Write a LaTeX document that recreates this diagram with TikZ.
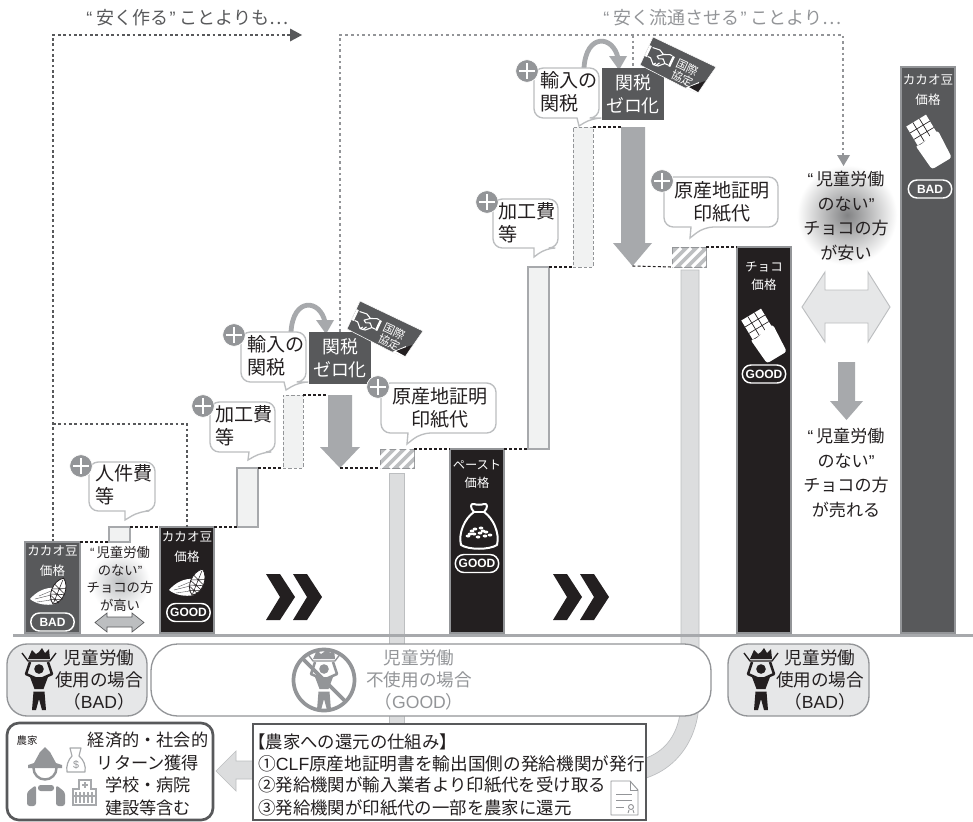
\documentclass[tikz,border=0pt]{standalone}
\usepackage{fontspec}
\setmainfont{Noto Sans CJK JP}
\newfontfamily\lat{Liberation Sans}
\usetikzlibrary{arrows.meta}
\definecolor{dk}{HTML}{58595B}
\definecolor{blk}{HTML}{231F20}
\definecolor{brd}{HTML}{939598}
\definecolor{inc}{HTML}{F1F2F2}
\definecolor{lg}{HTML}{BCBEC0}
\definecolor{mid}{HTML}{A7A9AC}
\definecolor{pale}{HTML}{DCDDDE}
\definecolor{pillg}{HTML}{E6E7E8}
\newcommand\fs[2]{\fontsize{#1pt}{#2pt}\selectfont}
\newcommand\rectnode[6]{\pgfmathsetlengthmacro\myw{(#4-#2)*0.75}\pgfmathsetlengthmacro\myh{(#5-#3)*0.75}%
 \node[#6,anchor=north west,inner sep=0pt,outer sep=0pt,minimum width=\myw,minimum height=\myh] (#1) at (#2,#3) {};}
\tikzset{
 darkbar/.style={fill=dk,draw=brd,line width=1pt},
 blackbar/.style={fill=blk,draw=brd,line width=1pt},
 incbox/.style={fill=inc,draw=mid,line width=.8pt},
 incdash/.style={fill=inc,draw=brd,line width=.6pt,dash pattern=on 2.5pt off 1.5pt},
 hatchbox/.style={fill=lg,draw=brd,line width=.5pt},
 stepline/.style={line width=.8pt,blk,dash pattern=on 2.2pt off 1.6pt},
 dotline/.style={line width=1.4pt,dk,dash pattern=on 2pt off 2pt},
 grayline/.style={line width=1.4pt,brd,dash pattern=on 2pt off 2.2pt},
 bartext/.style={text=white,align=center,inner sep=0pt,font=\fs{9.4}{15}},
 smallpill/.style={draw=white,line width=1.1pt,rounded corners=6.5pt,inner sep=0pt,minimum width=32.5pt,minimum height=13.5pt,text=white,font=\lat\bfseries\fs{9}{10}},
 calloutline/.style={draw=lg,fill=white,line width=1pt},
 callouttext/.style={align=left,inner sep=0pt,text=blk,font=\fs{14.3}{17.6}},
 plusdisc/.style={circle,fill=brd,draw=white,line width=.5pt,minimum size=17pt,inner sep=0pt},
 statuspill/.style={draw=brd,line width=1pt,rounded corners=15pt,anchor=north west,inner sep=0pt,outer sep=0pt},
 bigtext/.style={align=center,inner sep=0pt,text=blk,font=\fs{12.8}{18.4}},
 labeltext/.style={align=center,inner sep=0pt,text=blk,font=\fs{13.2}{16.8}},
 linetext/.style={anchor=west,inner sep=0pt,text=blk,font=\fs{13.05}{15}},
 pics/cacao/.style={code={
   \fill[white] (-19,3) .. controls (-12,-5) and (-3,-9) .. (6,-8) -- (6,8) .. controls (-3,10) and (-13,8) .. (-19,3) -- cycle;
   \draw[dk,line width=.3pt] (-14,3) -- (2,-1) (-12,6) -- (2,4) (-10,0) -- (2,-5);
   \begin{scope}[shift={(9,-4)},rotate=-22]
    \draw[fill=white,draw=blk,line width=.6pt] (0,-15) .. controls (9,-9) and (9,8) .. (0,13) .. controls (-9,8) and (-9,-9) .. (0,-15) -- cycle;
    \draw[blk,line width=.4pt] (0,-13) -- (0,12) (-6,-6) -- (6,-1) (-7,0) -- (7,5) (-5,6) -- (5,10) (6,-6) -- (-6,-1) (7,0) -- (-7,5) (5,6) -- (-5,10);
   \end{scope}}},
 pics/chocobar/.style={code={
   \begin{scope}[rotate=31]
    \fill[white] (-11.5,-25) rectangle (11.5,-3);
    \draw[blk,line width=.5pt] (-3.8,-25) -- (-3.8,-3) (3.8,-25) -- (3.8,-3) (-11.5,-17.5) -- (11.5,-17.5) (-11.5,-10) -- (11.5,-10);
    \fill[white,rounded corners=2pt] (-13.5,-4) .. controls (-6,0) and (6,-7) .. (13.5,-5) -- (11.5,25) -- (-11.5,25) -- cycle;
   \end{scope}}},
 pics/worker/.style={code={
   \fill[#1] (-11,-21) -- (-7,-30) -- (-3,-26) -- (0,-28) -- (3,-32) -- (6,-27) -- (10,-31) -- (11,-21) -- cycle;
   \draw[#1,line width=1pt] (-17,-27) -- (-11,-19) -- (11,-19) -- (17,-27);
   \fill[#1] (0,-11) circle[radius=4.8];
   \draw[#1,line width=1.9pt,line join=round] (-4,-2) -- (-13,-6) -- (-9,-18) (4,-2) -- (13,-6) -- (9,-18);
   \fill[#1] (-9,-3) -- (9,-3) -- (4.5,9) -- (-4.5,9) -- cycle;
   \fill[#1] (-5.5,11.5) -- (5.5,11.5) -- (7,30) -- (3,30) -- (0,19) -- (-3,30) -- (-7,30) -- cycle;}},
}
\newcommand\taxzero[4]{%
 \begin{scope}[shift={(#1,#2)}]
  \draw[line width=3.6pt,mid] (291,332) .. controls (293,297) and (320,299) .. (325,322);
  \fill[mid] (316,320) -- (334,320) -- (326,334) -- cycle;
  \draw[calloutline,rounded corners=7pt] (241,332) -- (306,332) -- (306,382) -- (299,382) [sharp corners] -- (286,390) -- (284,382) [rounded corners=7pt] -- (241,382) -- cycle;
  \node[callouttext,anchor=north west] (#3t) at (247,335) {輸入の\\関税};
  \node[plusdisc] (#3p) at (234,335) {};
  \draw[white,line width=2.2pt] (#3p.center) ++(-8,0) -- ++(16,0) (#3p.center) ++(0,-8) -- ++(0,16);
  \rectnode{#4}{309}{332}{371}{384}{fill=dk}
  \node[align=center,inner sep=0pt,text=white,font=\fs{13.4}{17.6}] at (#4.center) {関税\\ゼロ化};
  \fill[dk,draw=white,line width=.4pt] (360,301) -- (423,331) -- (405,357) -- (392,352) -- (347,329) -- cycle;
  \fill[white] (392,352) -- (405,357) -- (406,346) -- cycle;
  \fill[blk] (396,351) -- (405,356) -- (412,345) -- cycle;
  \node[align=center,inner sep=0pt,text=white,rotate=-25,font=\fs{8.6}{9.6}] (#3s) at (392,337) {国際\\協定};
  \begin{scope}[shift={(366,322)},rotate=-25,scale=.85]
   \draw[white,line width=1.8pt] (-15,-9) -- (-15,5) (15,-9) -- (15,4);
   \draw[white,line width=.8pt,line join=round] (-12,-8) -- (-3,-9) -- (3,-6) -- (10,-9) -- (13,-9) (13,3) -- (9,3) -- (3,9) -- (-3,10) -- (-9,4) -- (-13,4) (3,-6) -- (-3,-1) -- (0,1) -- (5,-1) -- (9,3) (-3,10) -- (-1,7) (0,10) -- (3,5);
  \end{scope}
 \end{scope}}
\begin{document}
\begin{tikzpicture}[x=0.75pt,y=-0.75pt]
\useasboundingbox (0,0) rectangle (973,821);
\fill[white] (0,0) rectangle (973,821);

% glows
\shade[inner color=dk!75,outer color=white] (847,215) circle[radius=50];
\shade[inner color=lg,outer color=white] (120,582) circle[radius=30];

% return flow bars
\rectnode{flowA}{389}{473}{404}{724}{fill=pale,draw=lg,line width=.5pt}
\fill[pale,draw=lg,line width=.5pt] (681,270) -- (699,270) -- (699,700) .. controls (699,735) and (680,767) .. (646,778) -- (646,758) .. controls (668,750) and (681,730) .. (681,700) -- cycle;

% top dotted routes
\coordinate (routeA) at (53,35);
\coordinate (routeAend) at (291,35);
\coordinate (routeB) at (340,35);
\coordinate (routeC) at (843,35);
\coordinate (routeCend) at (843,155);
\coordinate (routeD) at (633,35);
\coordinate (routeDend) at (633,68);
\coordinate (routeBend) at (340,332);
\draw[grayline] (routeBend) -- (routeB) -- (routeC) -- (routeCend);
\draw[grayline] (routeD) -- (routeDend);
\fill[brd] (837,155) -- (850,155) -- (843.5,166) -- cycle;
\draw[dotline] (53,542) -- (routeA) -- (routeAend);
\fill[dk] (290,28.5) -- (302,35) -- (290,41.5) -- cycle;
\node[inner sep=0pt,anchor=west,text=dk,font=\fs{13.5}{14}] (headA) at (86,18) {{\lat“}\hspace{3pt}安く作る\hspace{1pt}{\lat”}\hspace{3pt}ことよりも…};
\node[inner sep=0pt,anchor=west,text=brd,font=\fs{13.5}{14}] (headB) at (603,18) {{\lat“}\hspace{3pt}安く流通させる\hspace{1pt}{\lat”}\hspace{3pt}ことより…};

% bars
\rectnode{barA}{25}{542}{80}{633}{darkbar}
\rectnode{barB}{160}{527}{214}{633}{blackbar}
\rectnode{barC}{450}{449}{504}{633}{blackbar}
\rectnode{barD}{737}{247}{791}{633}{blackbar}
\rectnode{barE}{901}{67}{955}{633}{darkbar}

% increments
\rectnode{incA}{109}{527}{130}{542}{incbox}
\rectnode{incB}{237}{468}{258}{527}{incbox}
\rectnode{incC}{283}{395}{303}{468}{incdash}
\rectnode{stampA}{380}{449}{414}{468}{hatchbox}
\rectnode{incD}{528}{267}{549}{449}{incbox}
\rectnode{incE}{573}{127}{593}{267}{incdash}
\rectnode{stampB}{672}{247}{706}{267}{hatchbox}
\foreach \s in {stampA,stampB}{
 \begin{scope}
  \clip (\s.north west) rectangle (\s.south east);
  \foreach \k in {-2,...,4}{
   \draw[white,line width=2.4pt] ([xshift=\k*7.5pt]\s.south west) -- ++(19,-19);
  }
 \end{scope}
}

% down arrows
\fill[mid] (328,395) -- (352,395) -- (352,447) -- (360,447) -- (340,468) -- (320,447) -- (328,447) -- cycle;
\fill[mid] (621,127) -- (645,127) -- (645,243) -- (652,243) -- (632.5,266) -- (613,243) -- (621,243) -- cycle;
\coordinate (arrowAtop) at (328,395);
\coordinate (arrowAtip) at (340,468);
\coordinate (arrowBtop) at (621,127);
\coordinate (arrowBtip) at (632.5,266);

% step lines
\draw[dotline,line width=1.2pt] (53,424) -- (187,424) -- (187,527);
\draw[stepline] (80,542) -- (incA.south west);
\draw[stepline] (incA.north east) -- (barB.north west);
\draw[stepline] (barB.north east) -- (incB.south west);
\draw[stepline] (incB.north east) -- (incC.south west);
\draw[stepline] (incC.north east) -- (arrowAtop);
\draw[stepline] (arrowAtip) -- (stampA.south west);
\draw[stepline] (stampA.north east) -- (barC.north west);
\draw[stepline] (barC.north east) -- (incD.south west);
\draw[stepline] (incD.north east) -- (incE.south west);
\draw[stepline] (incE.north east) -- (arrowBtop);
\draw[stepline] (arrowBtip) -- (stampB.south west);
\draw[stepline] (stampB.north east) -- (barD.north west);

% callouts
\draw[calloutline,rounded corners=7pt] (89,462) -- (155,462) -- (155,511) -- (140,511) [sharp corners] -- (125,520) -- (125,511) [rounded corners=7pt] -- (89,511) -- cycle;
\node[callouttext,anchor=north west] (costA) at (95,464) {人件費\\等};
\node[plusdisc] (plusA) at (81,466) {};
\draw[calloutline,rounded corners=7pt] (210,402) -- (275,402) -- (275,452) -- (262,452) [sharp corners] -- (248,460) -- (249,452) [rounded corners=7pt] -- (210,452) -- cycle;
\node[callouttext,anchor=north west] (costB) at (215,405) {加工費\\等};
\node[plusdisc] (plusB) at (203,406) {};
\draw[calloutline,rounded corners=7pt] (493,199) -- (558,199) -- (558,248) -- (546,248) [sharp corners] -- (534,257) -- (534,248) [rounded corners=7pt] -- (493,248) -- cycle;
\node[callouttext,anchor=north west] (costC) at (498,202) {加工費\\等};
\node[plusdisc] (plusC) at (487,202) {};
\foreach \p in {plusA,plusB,plusC}{
 \draw[white,line width=2.2pt] (\p.center) ++(-8,0) -- ++(16,0) (\p.center) ++(0,-8) -- ++(0,16);
}
\taxzero{0}{0}{dutyA}{zeroA}
\taxzero{293}{-264}{dutyB}{zeroB}

\draw[calloutline,rounded corners=7pt] (381,383) -- (496,383) -- (496,433) -- (421,433) [sharp corners] -- (407,444) -- (408,433) [rounded corners=7pt] -- (381,433) -- cycle;
\node[callouttext,align=center] (stampTextA) at (440,408) {原産地証明\\印紙代};
\node[plusdisc] (plusD) at (378,387) {};
\draw[calloutline,rounded corners=7pt] (664,177) -- (778,177) -- (778,227) -- (704,227) [sharp corners] -- (690,238) -- (691,227) [rounded corners=7pt] -- (664,227) -- cycle;
\node[callouttext,align=center] (stampTextB) at (722,202) {原産地証明\\印紙代};
\node[plusdisc] (plusE) at (662,181) {};
\foreach \p in {plusD,plusE}{
 \draw[white,line width=2.2pt] (\p.center) ++(-8,0) -- ++(16,0) (\p.center) ++(0,-8) -- ++(0,16);
}

% bar labels
\node[bartext] (tA) at (52.5,561) {カカオ豆\\価格};
\node[bartext] (tB) at (187,547) {カカオ豆\\価格};
\node[bartext,font=\fs{9.2}{13.5}] (tC) at (477,474) {ペースト\\価格};
\node[bartext,font=\fs{9.4}{13.5}] (tD) at (764,276) {チョコ\\価格};
\node[bartext] (tE) at (928,90) {カカオ豆\\価格};
\pic at (49,596) {cacao};
\pic at (188,587) {cacao};
\pic at (764,336) {chocobar};
\pic at (929,142) {chocobar};
\node[smallpill] (pA) at (52.5,622) {BAD};
\node[smallpill] (pB) at (188.5,612.5) {GOOD};
\node[smallpill] (pC) at (477,563.5) {GOOD};
\node[smallpill] (pD) at (764,374) {GOOD};
\node[smallpill] (pE) at (930,189) {BAD};
% paste bag
\begin{scope}[shift={(479,525)}]
 \draw[white,line width=1.5pt,fill=blk,line join=round] (-5,-13) .. controls (-9,-17) and (-9,-22) .. (-5,-21) .. controls (-2,-20) and (2,-20) .. (5,-21) .. controls (9,-22) and (9,-17) .. (5,-13) .. controls (14,-7) and (21,8) .. (18,20) .. controls (10,25) and (-10,25) .. (-18,20) .. controls (-21,8) and (-14,-7) .. (-5,-13) -- cycle;
 \draw[white,line width=1.5pt] (-6,-13) -- (6,-13);
 \foreach \a/\b in {-9/9,-4/4,2/3,7/7,-11/11,-5/9,1/8,6/11,11/10,-1/12,-7/6,4/6}{\fill[white] (\a,\b) ellipse[x radius=2.4,y radius=1.5];}
\end{scope}

% chevrons
\foreach \c/\d in {266/ch1,293/ch2,553/ch3,580/ch4}{
 \fill[blk] (\c,574) -- (\c+14,574) -- (\c+29,597) -- (\c+14,620) -- (\c,620) -- (\c+14,597) -- cycle;
}

% middle comparison texts
\node[align=center,inner sep=0pt,text=blk,font=\fs{10}{13.3}] (txtHigh) at (120,579) {{\lat“}\,児童労働\\のない{\lat”}\\チョコの方\\が高い};
\draw[fill=lg,draw=dk,line width=.5pt] (95,622.5) -- (107,613) -- (107,617) -- (132,617) -- (132,613) -- (144,622.5) -- (132,632) -- (132,627) -- (107,627) -- (107,632) -- cycle;
\node[bigtext] (txtCheap) at (846,216) {{\lat“}\,児童労働\\のない{\lat”}\\チョコの方\\が安い};
\draw[fill=pillg,draw=lg,line width=.7pt] (802,307) -- (825,272) -- (825,290) -- (868,290) -- (868,272) -- (890,307) -- (868,342) -- (868,323) -- (825,323) -- (825,342) -- cycle;
\fill[mid] (838,362) -- (855,362) -- (855,401) -- (863,401) -- (846.5,420) -- (830,401) -- (838,401) -- cycle;
\node[bigtext] (txtSell) at (846,473) {{\lat“}\,児童労働\\のない{\lat”}\\チョコの方\\が売れる};

% baseline
\draw[line width=2.2pt,mid] (13,635.5) -- (973,635.5);

% status pills
\rectnode{stBadA}{7}{644}{147}{716}{statuspill,fill=pillg}
\rectnode{stGood}{151}{644}{711}{716}{statuspill,fill=white,rounded corners=20pt}
\rectnode{stBadB}{728}{644}{869}{716}{statuspill,fill=pillg}
\pic at (39,680) {worker=blk};
\pic at (761,680) {worker=blk};
\pic at (324,680) {worker=brd};
\draw[brd,line width=2.8pt] (324,680) circle[radius=30.5];
\draw[brd,line width=2.8pt] (302.5,658.5) -- (345.5,701.5);
\node[labeltext] (lBadA) at (99,680) {児童労働\\使用の場合\\（{\lat BAD}）};
\node[labeltext,text=brd] (lGood) at (419,680) {児童労働\\不使用の場合\\（{\lat GOOD}）};
\node[labeltext] (lBadB) at (820,680) {児童労働\\使用の場合\\（{\lat BAD}）};

% farmer panel
\rectnode{farmBox}{7}{723}{213}{820}{draw=dk,fill=white,line width=2pt,rounded corners=9pt}
\node[inner sep=0pt,text=blk,font=\fs{7.8}{9}] (farmLbl) at (27,741) {農家};
\node[align=center,inner sep=0pt,text=blk,font=\fs{12.9}{17}] (farmTxt) at (148,774) {経済的・社会的\\リターン獲得\\学校・病院\\建設等含む};
% farmer figure
\fill[brd] (28,765) -- (34,763) -- (40,752) -- (45,747) -- (50,752) -- (56,763) -- (62,765) -- (62,768) -- (28,768) -- cycle;
\draw[brd,line width=1.8pt] (33.5,768) arc[start angle=180,end angle=0,radius=11.5];
\fill[brd,rounded corners=2pt] (27,806) -- (27,792) -- (36,785) -- (36,806) -- cycle;
\fill[brd,rounded corners=2pt] (38,785) rectangle (54,791);
\fill[brd,rounded corners=2pt] (56,785) -- (65,792) -- (65,806) -- (56,806) -- cycle;
% money bag
\draw[mid,line width=.9pt,line join=round] (72,756) -- (70,748) -- (81,748) -- (79,756) .. controls (84,760) and (86,766) .. (85,772) -- (67,772) .. controls (66,766) and (68,760) .. (72,756) -- cycle;
\node[inner sep=0pt,text=brd,font=\lat\fs{8}{9}] (moneyS) at (76,765) {\$};
% hospital
\draw[mid,line width=.9pt] (73,805) -- (73,789) -- (79,789) -- (79,780) -- (91,780) -- (91,789) -- (96,789) -- (96,805) -- cycle;
\foreach \i in {76,80,84,88,92}{\draw[mid,line width=.9pt] (\i,792) -- (\i,803);}
\draw[mid,line width=.8pt] (73,796) -- (96,796) (85,782) -- (85,788) (82,785) -- (88,785);

% mechanism box
\fill[pale,draw=lg,line width=.5pt] (253,761) -- (236,761) -- (236,751) -- (216,771) -- (236,791) -- (236,779) -- (253,779);
\rectnode{mechBox}{253}{724}{646}{820}{draw=dk,fill=white,line width=2pt}
\node[linetext] (m0) at (248,742) {【農家への還元の仕組み】};
\node[linetext,font=\fs{13.25}{15}] (m1) at (258,763.5) {①{\lat CLF}原産地証明書を輸出国側の発給機関が発行};
\node[linetext] (m2) at (258,785.5) {②発給機関が輸入業者より印紙代を受け取る};
\node[linetext] (m3) at (258,808) {③発給機関が印紙代の一部を農家に還元};
% document icon
\draw[brd,line width=.7pt,fill=white,line join=round] (611,781) -- (630,781) -- (638,790) -- (638,815) -- (611,815) -- cycle;
\draw[brd,line width=.7pt] (630,781) -- (630,790) -- (638,790) (616,794) -- (632,794) (616,800) -- (632,800) (616,807) -- (624,807);
\draw[brd,line width=.7pt] (631,807) circle[radius=2.5] (629,810) -- (628,813) (633,810) -- (634,813);
\end{tikzpicture}
\end{document}
